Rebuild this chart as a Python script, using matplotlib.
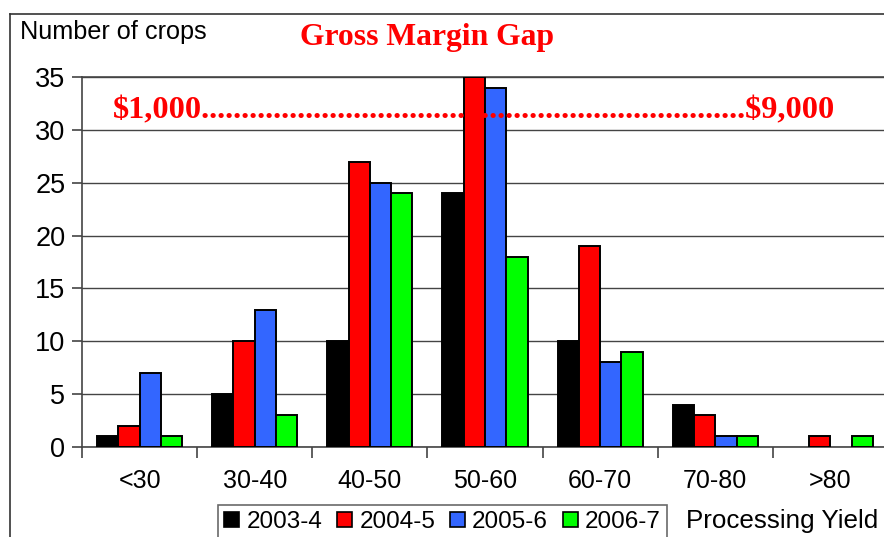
import matplotlib.pyplot as plt
import numpy as np
from matplotlib.patches import Patch
from matplotlib.lines import Line2D

# processing yield bands and crop counts per season
bands = ['<30', '30-40', '40-50', '50-60', '60-70', '70-80', '>80']
seasons = ['2003-4', '2004-5', '2005-6', '2006-7']
y2003 = [1, 5, 10, 24, 10, 4, 0]
y2004 = [2, 10, 27, 35, 19, 3, 1]
y2005 = [7, 13, 25, 34, 8, 1, 0]
y2006 = [1, 3, 24, 18, 9, 1, 1]
colors = ['#000000', '#ff0000', '#3366ff', '#00ff00']

W, H = 884, 537
fig = plt.figure(figsize=(W / 100, H / 100), dpi=100)

# outer slide frame
fig.add_artist(Line2D([10 / W, 10 / W], [0, 1 - 14 / H], color='#333333', lw=1.2))
fig.add_artist(Line2D([10 / W, 1], [1 - 14 / H, 1 - 14 / H], color='#333333', lw=1.2))

ax = fig.add_axes([82 / W, (H - 447) / H, (888 - 82) / W, (447 - 77) / H])

x = np.arange(len(bands))
w = 0.185
for k, vals in enumerate([y2003, y2004, y2005, y2006]):
    # empty bands get no bar (otherwise a flat outline shows on the axis)
    h = np.array(vals, dtype=float)
    h[h == 0] = np.nan
    ax.bar(x + (k - 1.5) * w, h, w, color=colors[k], edgecolor='black',
           linewidth=1.4, zorder=3)

ax.set_xlim(-0.5, len(bands) - 0.5)
ax.set_ylim(0, 35)
ax.set_yticks(np.arange(0, 36, 5))
ax.yaxis.grid(True, color='#444444', linewidth=1.0, zorder=0)

ax.set_xticks(np.arange(-0.5, len(bands), 1))
ax.set_xticklabels([])
ax.set_xticks(x, minor=True)
ax.set_xticklabels(bands, minor=True, fontsize=18, family='Liberation Sans')
ax.tick_params(axis='x', which='major', length=8, width=1.2, color='#444444')
ax.tick_params(axis='x', which='minor', length=0, pad=16)
ax.tick_params(axis='y', length=7, width=1.2, color='#444444', labelsize=19.5, pad=5)
for lab in ax.get_yticklabels():
    lab.set_family('Liberation Sans')

for s in ['left', 'bottom', 'top']:
    ax.spines[s].set_color('#444444')
    ax.spines[s].set_linewidth(1.2)
ax.spines['right'].set_visible(False)

fig.text(20 / W, 1 - 32 / H, 'Number of crops', fontsize=18.2, family='Liberation Sans',
         va='center', ha='left')
fig.text(427 / W, 1 - 38 / H, 'Gross Margin Gap', fontsize=22.8, family='Liberation Serif',
         weight='bold', color='red', va='center', ha='center')
fig.text(113 / W, 1 - 111 / H, r'\$1,000' + '.' * 68 + r'\$9,000', fontsize=23.3,
         family='Liberation Serif', weight='bold', color='red', va='center', ha='left')

handles = [Patch(facecolor=c, edgecolor='black', linewidth=1.2) for c in colors]
leg = fig.legend(handles, seasons, ncol=4, loc='upper left',
                 bbox_to_anchor=(218 / W, 1 - 505 / H),
                 prop={'family': 'Liberation Sans', 'size': 17.5},
                 frameon=True, fancybox=False, handlelength=0.62, handleheight=0.62,
                 handletextpad=0.3, columnspacing=0.6, borderpad=0.25, borderaxespad=0)
leg.get_frame().set_edgecolor('#444444')
leg.get_frame().set_linewidth(1.2)

fig.text(686 / W, 1 - 521 / H, 'Processing Yield', fontsize=18.7, family='Liberation Sans',
         va='center', ha='left')

fig.savefig('out.png', dpi=100)
